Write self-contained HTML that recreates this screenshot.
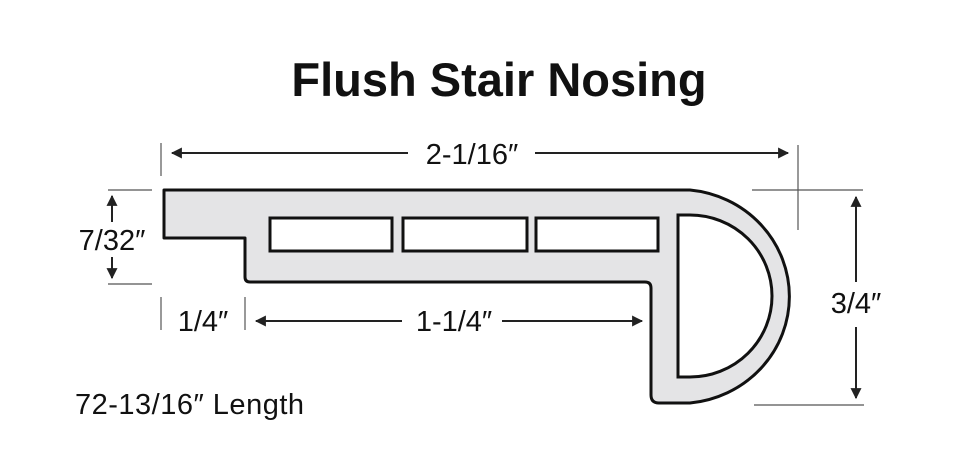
<!DOCTYPE html>
<html><head><style>
body{margin:0;background:#fff;}
svg{display:block;}
text{font-family:"Liberation Sans",sans-serif;fill:#111;}
</style></head><body>
<svg width="953" height="462" viewBox="0 0 953 462" xmlns="http://www.w3.org/2000/svg">
<defs>
<marker id="b" viewBox="0 0 10 10" refX="9" refY="5" markerWidth="20" markerHeight="11" orient="auto-start-reverse" markerUnits="userSpaceOnUse"><path d="M0,0 L10,5 L0,10 Z" fill="#222"/></marker>
</defs>
<text x="499" y="96" font-size="47" font-weight="bold" text-anchor="middle">Flush Stair Nosing</text>
<path d="M164,190 L690,190 A110,107 0 0 1 690,403 L659,403 Q651,403 651,395 L651,288 Q651,282 645,282 L250,282 Q245,282 245,277 L245,238 L164,238 Z" fill="#e4e4e6" stroke="#111" stroke-width="3" stroke-linejoin="round"/>
<path d="M678,215 L690,215 A82,81 0 0 1 690,377 L678,377 Z" fill="#fff" stroke="#111" stroke-width="3"/>
<rect x="270" y="218" width="122" height="33" fill="#fff" stroke="#111" stroke-width="3"/>
<rect x="403" y="218" width="124" height="33" fill="#fff" stroke="#111" stroke-width="3"/>
<rect x="536" y="218" width="122" height="33" fill="#fff" stroke="#111" stroke-width="3"/>
<g stroke="#555" stroke-width="1.2">
<line x1="161" y1="143" x2="161" y2="176"/>
<line x1="798" y1="145" x2="798" y2="230"/>
<line x1="752" y1="190" x2="863" y2="190"/>
<line x1="754" y1="405" x2="864" y2="405"/>
<line x1="108" y1="190" x2="152" y2="190"/>
<line x1="108" y1="284" x2="152" y2="284"/>
<line x1="161" y1="297" x2="161" y2="330"/>
<line x1="245" y1="297" x2="245" y2="330"/>
</g>
<g stroke="#222" stroke-width="2" fill="none">
<line x1="172" y1="153" x2="408" y2="153" marker-start="url(#b)"/>
<line x1="535" y1="153" x2="788" y2="153" marker-end="url(#b)"/>
<line x1="256" y1="321" x2="402" y2="321" marker-start="url(#b)"/>
<line x1="502" y1="321" x2="642" y2="321" marker-end="url(#b)"/>
<line x1="856" y1="197" x2="856" y2="282" marker-start="url(#b)"/>
<line x1="856" y1="327" x2="856" y2="398" marker-end="url(#b)"/>
<line x1="112" y1="196" x2="112" y2="222" marker-start="url(#b)"/>
<line x1="112" y1="257" x2="112" y2="278" marker-end="url(#b)"/>
</g>
<g font-size="29">
<text x="472" y="164" text-anchor="middle">2-1/16″</text>
<text x="454" y="331" text-anchor="middle">1-1/4″</text>
<text x="203" y="331" text-anchor="middle">1/4″</text>
<text x="112" y="250" text-anchor="middle">7/32″</text>
<text x="856" y="313" text-anchor="middle">3/4″</text>
<text x="75" y="414" letter-spacing="0.5">72-13/16″ Length</text>
</g>
</svg>
</body></html>
